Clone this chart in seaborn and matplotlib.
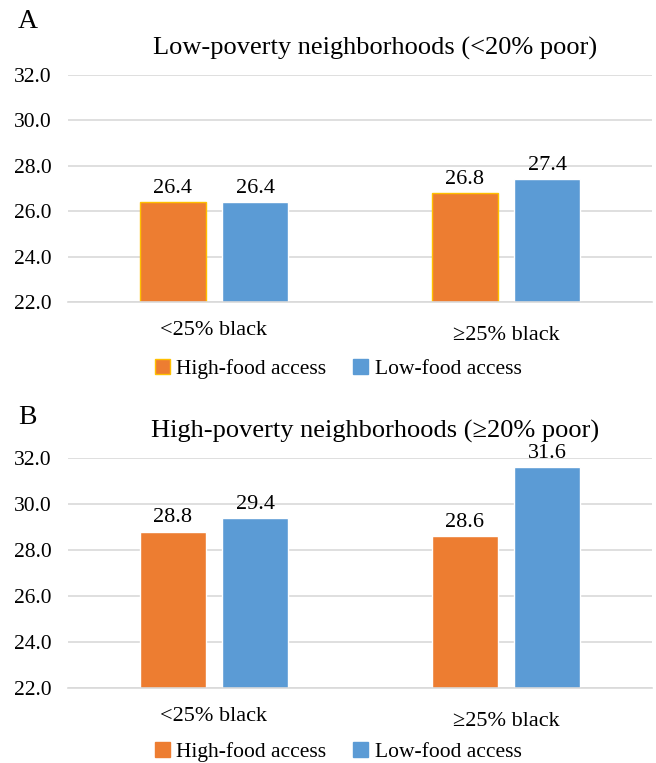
import matplotlib
matplotlib.use("Agg")
import matplotlib.pyplot as plt
import pandas as pd
import seaborn as sns
from matplotlib.patches import Patch

# Mean values by neighbourhood racial composition and food access
categories = ["<25% black", "≥25% black"]
access_groups = ["High-food access", "Low-food access"]
low_poverty_high_access = [26.4, 26.8]
low_poverty_low_access = [26.4, 27.4]
high_poverty_high_access = [28.8, 28.6]
high_poverty_low_access = [29.4, 31.6]
y_ticks = [22.0, 24.0, 26.0, 28.0, 30.0, 32.0]

panel_titles = ["Low-poverty neighborhoods (<20% poor)",
                "High-poverty neighborhoods (≥20% poor)"]
panel_letters = ["A", "B"]

ORANGE = "#ED7D31"
BLUE = "#5B9BD5"
GOLD = "#FFC000"
GRID = "#D9D9D9"

sns.set_theme(style="white")
plt.rcParams["font.family"] = ["Liberation Serif", "DejaVu Serif"]
plt.rcParams["text.color"] = "black"
plt.rcParams["xtick.color"] = "black"
plt.rcParams["ytick.color"] = "black"

W, H = 656, 763
fig = plt.figure(figsize=(W / 100, H / 100), dpi=100)


def frame(high, low):
    return pd.DataFrame({
        "category": categories * 2,
        "access": [access_groups[0]] * 2 + [access_groups[1]] * 2,
        "value": list(high) + list(low),
    })


def ax_rect(left, top, right, bottom):
    return [left / W, 1 - bottom / H, (right - left) / W, (bottom - top) / H]


panels = [
    (frame(low_poverty_high_access, low_poverty_low_access), ax_rect(68, 75, 652, 302), True),
    (frame(high_poverty_high_access, high_poverty_low_access), ax_rect(68, 458, 652, 688), False),
]

for i, (df, rect, gold_edge) in enumerate(panels):
    ax = fig.add_axes(rect)
    sns.barplot(data=df, x="category", y="value", hue="access",
                hue_order=access_groups, order=categories,
                palette=[ORANGE, BLUE], width=0.568, gap=0.204,
                saturation=1, errorbar=None, legend=False, ax=ax)
    if gold_edge:
        for patch in ax.containers[0]:
            patch.set_edgecolor(GOLD)
            patch.set_linewidth(1.0)
    for cont in ax.containers:
        ax.bar_label(cont, fmt="%.1f", padding=3, fontsize=16, color="black")

    ax.set_ylim(22, 32)
    ax.set_xlim(-0.5, 1.5)
    ax.set_yticks(y_ticks)
    ax.set_yticklabels([f"{t:.1f}" for t in y_ticks], fontsize=15.5)
    ax.yaxis.grid(True, color=GRID, linewidth=1.2)
    ax.set_axisbelow(True)
    for s in ["top", "right", "left"]:
        ax.spines[s].set_visible(False)
    ax.spines["bottom"].set_color(GRID)
    ax.spines["bottom"].set_linewidth(1.2)
    ax.tick_params(axis="both", length=0)
    ax.tick_params(axis="x", pad=14, labelsize=16)
    ax.tick_params(axis="y", pad=12)
    # the "≥" label sits slightly lower than the "<" label
    ax.get_xticklabels()[1].set_y(-0.02)
    ax.set_xlabel("")
    ax.set_ylabel("")
    ax.set_title(panel_titles[i], fontsize=19, pad=15, x=0.526, color="black")
    fig.text(18 / W, 1 - (22 + 396 * i) / H, panel_letters[i],
             fontsize=20, va="center", ha="left")

    handles = [
        Patch(facecolor=ORANGE, edgecolor=GOLD if gold_edge else ORANGE,
              linewidth=1.0),
        Patch(facecolor=BLUE, edgecolor=BLUE),
    ]
    ax.legend(handles, access_groups, loc="center",
              bbox_to_anchor=((338 - 68) / 584, -0.295 if i == 0 else -0.28),
              ncol=2, frameon=False,
              fontsize=15.5, handlelength=0.7, handleheight=0.7,
              handletextpad=0.3, columnspacing=1.25)

fig.savefig("out.png", dpi=100)
